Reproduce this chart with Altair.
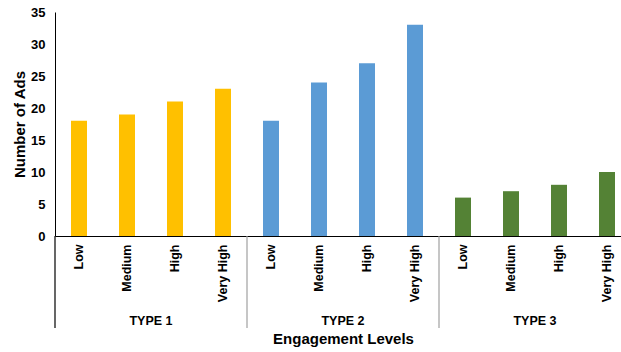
import altair as alt
import pandas as pd

# Ad counts by engagement level for each ad type
groups = ["TYPE 1", "TYPE 2", "TYPE 3"]
levels = ["Low", "Medium", "High", "Very High"]
type1_counts = [18, 19, 21, 23]
type2_counts = [18, 24, 27, 33]
type3_counts = [6, 7, 8, 10]
bar_colors = ["#FFC000", "#5B9BD5", "#548235"]

FONT = "Liberation Sans"

rows = []
for g, counts in zip(groups, [type1_counts, type2_counts, type3_counts]):
    for lvl, c in zip(levels, counts):
        rows.append({"key": f"{g}|{lvl}", "group": g, "level": lvl, "count": c})
bars_df = pd.DataFrame(rows)
order = list(bars_df["key"])

# Group spans on a slot index scale: each group covers len(levels) slots
n = len(levels)
group_df = pd.DataFrame({
    "group": groups,
    "start": [i * n for i in range(len(groups))],
    "mid": [i * n + n / 2 for i in range(len(groups))],
})
total_slots = len(groups) * n
full_range = 576

bars = alt.Chart(bars_df).mark_bar().encode(
    x=alt.X(
        "key:N",
        sort=order,
        scale=alt.Scale(range=[0, full_range], paddingInner=2 / 3, paddingOuter=1 / 3),
        axis=alt.Axis(
            title="Engagement Levels",
            labelExpr="split(datum.label, '|')[1]",
            labelAngle=-90,
            labelFont=FONT,
            labelFontSize=12.5,
            labelFontWeight="bold",
            labelColor="black",
            labelPadding=8,
            ticks=False,
            tickSize=0,
            domainColor="black",
            domainWidth=1,
            titleFont=FONT,
            titleFontSize=15,
            titleFontWeight="bold",
            titleColor="black",
            titleX=full_range / 2,
            titleY=107,
            titleBaseline="alphabetic",
        ),
    ),
    y=alt.Y(
        "count:Q",
        scale=alt.Scale(domain=[0, 35]),
        axis=alt.Axis(
            title="Number of Ads",
            values=list(range(0, 36, 5)),
            grid=False,
            ticks=False,
            tickSize=0,
            labelPadding=10,
            labelFont=FONT,
            labelFontSize=13,
            labelFontWeight="bold",
            labelColor="black",
            domainColor="black",
            domainWidth=1,
            titleFont=FONT,
            titleFontSize=15,
            titleFontWeight="bold",
            titleColor="black",
            titleX=-31,
            titleY=112,
            titleBaseline="alphabetic",
        ),
    ),
    color=alt.Color(
        "group:N",
        scale=alt.Scale(domain=groups, range=bar_colors),
        legend=None,
    ),
)

slot_scale = alt.Scale(domain=[0, total_slots], range=[0, full_range])

separators = alt.Chart(group_df).mark_rule(strokeWidth=1.2).encode(
    x=alt.X("start:Q", scale=slot_scale, axis=None),
    y=alt.value(224),
    y2=alt.value(316),
    color=alt.condition(alt.datum.start == 0, alt.value("black"), alt.value("#a0a0a0")),
)

group_labels = alt.Chart(group_df).mark_text(
    font=FONT, fontSize=12.5, fontWeight="bold", color="black",
    baseline="alphabetic", align="center",
).encode(
    x=alt.X("mid:Q", scale=slot_scale, axis=None),
    y=alt.value(313),
    text="group:N",
)

chart = (
    alt.layer(bars, separators, group_labels)
    .resolve_scale(x="independent", color="independent")
    .properties(
        width=566,
        height=224,
        autosize=alt.AutoSizeParams(type="none"),
        padding={"left": 55, "top": 12, "right": 0, "bottom": 116},
        background="white",
    )
    .configure_view(stroke=None)
)

chart.save("out.html", embed_options={"renderer": "svg", "actions": False})
